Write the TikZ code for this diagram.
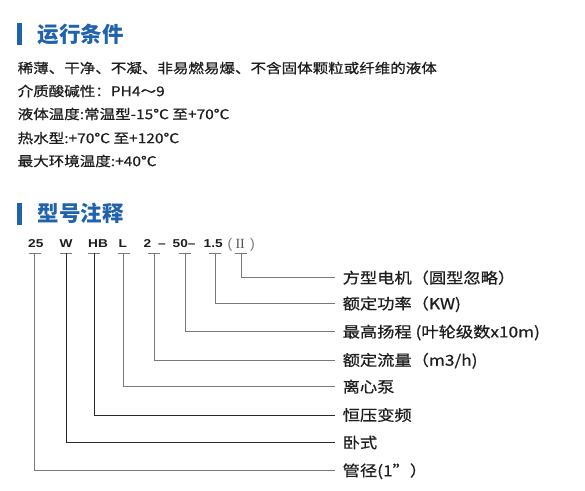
\documentclass[tikz,border=0pt]{standalone}
\usepackage{fontspec}
\setmainfont{Liberation Sans}
\newfontfamily\cjk[FakeStretch=1.15,FakeBold=0.6]{Noto Sans CJK SC}
\newfontfamily\cjktitle{Noto Sans CJK SC}
\newfontfamily\modelfont[FakeStretch=1.2]{Liberation Sans}
\newfontfamily\romanfont{Liberation Serif}
\definecolor{tblue}{HTML}{2162AC}
\definecolor{txt}{HTML}{1E1E1E}
\definecolor{lgray}{HTML}{7A7A7A}
\definecolor{dline}{HTML}{2A2A2A}
\tikzset{
  titletext/.style={anchor=west, inner sep=0pt, text=tblue, font=\cjktitle\bfseries\fontsize{21.5}{24}\selectfont, text height=18.9pt, text depth=2.6pt},
  bodytext/.style={anchor=west, inner sep=0pt, text=txt, font=\cjk\fontsize{13.5}{16}\selectfont, text height=11.9pt, text depth=1.6pt},
  modeltext/.style={anchor=base west, inner sep=0pt, text=txt, font=\modelfont\bfseries\fontsize{11.4}{13}\selectfont},
  parentext/.style={anchor=base west, inner sep=0pt, text=lgray, font=\fontsize{14}{16}\selectfont},
  labeltext/.style={anchor=west, inner xsep=7.5pt, inner ysep=0pt, text=txt, font=\cjk\fontsize{15}{18}\selectfont, text height=13.2pt, text depth=1.8pt},
  conn/.style={draw=lgray, line width=0.9pt},
  darkconn/.style={draw=dline, line width=0.9pt},
  bar/.style={fill=tblue}
}
\begin{document}
\begin{tikzpicture}[x=1pt,y=-1pt]
\useasboundingbox (0,0) rectangle (585,490);
\fill[white] (0,0) rectangle (585,490);
% section 1
\fill[bar] (17.3,22.7) rectangle (22,45);
\node[titletext] (title1) at (37.5,34) {运行条件};
\node[bodytext] (b1) at (17.5,68) {稀薄、干净、不凝、非易燃易爆、不含固体颗粒或纤维的液体};
\node[bodytext] (b2) at (17.5,91) {介质酸碱性：PH4～9};
\node[bodytext] (b3) at (17.5,114) {液体温度:常温型-15°C 至+70°C};
\node[bodytext] (b4) at (17.5,138) {热水型:+70°C 至+120°C};
\node[bodytext] (b5) at (17.5,161) {最大环境温度:+40°C};
% section 2
\fill[bar] (17.3,202.7) rectangle (22,224.5);
\node[titletext] (title2) at (37.5,213.5) {型号注释};
% model string
\node[modeltext] (m25) at (28,247.3) {25};
\node[modeltext] (mW) at (59.5,247.3) {W};
\node[modeltext] (mHB) at (88,247.3) {HB};
\node[modeltext] (mL) at (118.5,247.3) {L};
\node[modeltext] (m2) at (143.5,247.3) {2};
\node[modeltext] (mdash) at (158,247.3) {–};
\node[modeltext] (m50) at (172.5,247.3) {50–};
\node[modeltext] (m15) at (203.5,247.3) {1.5};
\node[parentext] (mpl) at (227.5,248.5) {(};
\node[anchor=base west, inner sep=0pt, text=txt!75, font=\romanfont\fontsize{14}{16}\selectfont] (mII) at (235.5,248.5) {I\kern-0.3pt I};
\node[parentext] (mpr) at (250,248.5) {)};
% tick coordinates
\coordinate (k25) at (34.7,253);
\coordinate (kW) at (66,253);
\coordinate (kHB) at (94,253);
\coordinate (kL) at (123.5,253);
\coordinate (k2) at (154,253);
\coordinate (k50) at (185.3,253);
\coordinate (k15) at (215,253);
\coordinate (kII) at (241,253);
% labels
\node[labeltext] (lII) at (335,277.7) {方型电机（圆型忽略）};
\node[labeltext] (l15) at (335,303.5) {额定功率（KW)};
\node[labeltext] (l50) at (335,331.7) {最高扬程 (叶轮级数x10m)};
\node[labeltext] (l2) at (335,360) {额定流量（m3/h)};
\node[labeltext] (lL) at (335,386.7) {离心泵};
\node[labeltext] (lHB) at (335,415) {恒压变频};
\node[labeltext] (lW) at (335,442.5) {卧式};
\node[labeltext] (l25) at (335,470.5) {管径(1”）};
% ticks
\foreach \k in {k25,kW,kHB,kL,k2,k50,k15,kII}{
  \draw[conn] ([xshift=-6pt]\k) -- ([xshift=6pt]\k);
}
% connectors
\draw[conn] (kII) |- (lII.west);
\draw[conn] (k15) |- (l15.west);
\draw[conn] (k50) |- (l50.west);
\draw[conn] (k2) |- (l2.west);
\draw[conn] (kL) |- (lL.west);
\draw[darkconn] (kHB) |- (lHB.west);
\draw[darkconn] (kW) |- (lW.west);
\draw[conn] (k25) |- (l25.west);
\end{tikzpicture}
\end{document}
